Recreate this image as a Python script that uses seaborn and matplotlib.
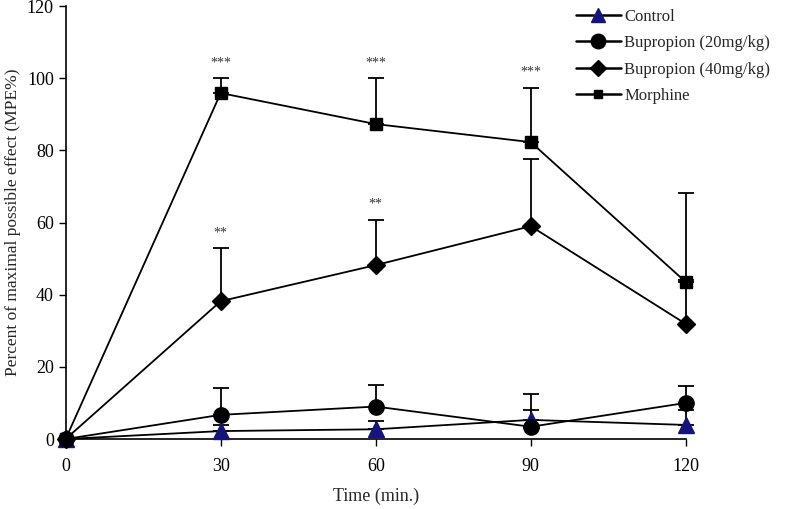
import numpy as np
import pandas as pd
import matplotlib
matplotlib.use("Agg")
import matplotlib.pyplot as plt
import seaborn as sns

# data
times = [0, 30, 60, 90, 120]
control = [0, 2.2, 2.7, 5.3, 3.9]
control_up = [0, 3.9, 5.0, 8.0, 8.0]
bup20 = [0, 6.7, 9.0, 3.4, 10.0]
bup20_up = [0, 14.2, 15.1, 12.5, 14.8]
bup40 = [0, 38.2, 48.2, 59.0, 31.9]
bup40_up = [0, 52.9, 60.7, 77.6, 44.0]
morphine = [0, 95.9, 87.3, 82.3, 43.5]
morphine_up = [0, 100.0, 100.0, 97.3, 68.2]
labels = ["Control", "Bupropion (20mg/kg)", "Bupropion (40mg/kg)", "Morphine"]
stars_bup40 = ["", "**", "**", "**", ""]
stars_morphine = ["", "***", "***", "***", ""]

sns.set_theme(style="white")
plt.rcParams["font.family"] = ["Liberation Serif", "DejaVu Serif"]

df = pd.DataFrame({
    "time": times * 4,
    "value": control + bup20 + bup40 + morphine,
    "group": sum([[g] * len(times) for g in labels], []),
})

fig = plt.figure(figsize=(7.91, 5.09), dpi=100)
ax = fig.add_axes([0.083, 0.1375, 0.784, 0.8505])

styles = {
    "Control": dict(marker="^", color="#14147a", ms=11),
    "Bupropion (20mg/kg)": dict(marker="o", color="black", ms=11),
    "Bupropion (40mg/kg)": dict(marker="D", color="black", ms=9),
    "Morphine": dict(marker="s", color="black", ms=9),
}
means = [control, bup20, bup40, morphine]
ups = [control_up, bup20_up, bup40_up, morphine_up]

handles = []
for lab, m, u in zip(labels, means, ups):
    st = styles[lab]
    sub = df[df["group"] == lab]
    m = np.array(m)
    u = np.array(u)
    eb = ax.errorbar(times, m, yerr=[np.zeros_like(m), u - m], fmt="none",
                     ecolor="black", elinewidth=1.3, capsize=6, capthick=1.3, zorder=2)
    for art in eb.get_children():
        art.set_clip_on(False)
    sns.lineplot(data=sub, x="time", y="value", ax=ax, color="black", lw=1.3,
                 legend=False, zorder=3, clip_on=False)
    ax.plot(times, m, ls="none", marker=st["marker"], ms=st["ms"],
            mfc=st["color"], mec=st["color"], zorder=4, clip_on=False)
    h, = ax.plot([], [], color="black", lw=1.8, marker=st["marker"],
                 ms=st["ms"] * (0.7 if lab == "Morphine" else 0.95),
                 mfc=st["color"], mec=st["color"])
    handles.append(h)

for t, s, u in zip(times, stars_morphine, morphine_up):
    if s:
        ax.text(t, u + 2.5, s, ha="center", va="bottom", fontsize=10, color="#333333")
for t, s, u in zip(times, stars_bup40, bup40_up):
    if s:
        ax.text(t, u + 2.5, s, ha="center", va="bottom", fontsize=10, color="#333333")

ax.set_xlim(0, 120)
ax.set_ylim(0, 120)
ax.set_xticks(times)
ax.set_yticks(range(0, 121, 20))
ax.tick_params(axis="both", direction="out", length=5, width=1, labelsize=13,
               bottom=True, left=True, colors="black")
ax.tick_params(axis="x", pad=9)
for sp in ["top", "right"]:
    ax.spines[sp].set_visible(False)
for sp in ["left", "bottom"]:
    ax.spines[sp].set_color("black")
    ax.spines[sp].set_linewidth(1.2)
ax.set_xlabel("Time (min.)", fontsize=13, labelpad=9)
ax.set_ylabel("Percent of maximal possible effect (MPE%)", fontsize=12.5, labelpad=4)
ax.grid(False)

fig.legend(handles, labels, loc="upper left", bbox_to_anchor=(0.709, 1.012),
           frameon=False, fontsize=12, handlelength=2.7, labelspacing=0.62,
           handletextpad=0.2)

fig.savefig("out.png", dpi=100)
